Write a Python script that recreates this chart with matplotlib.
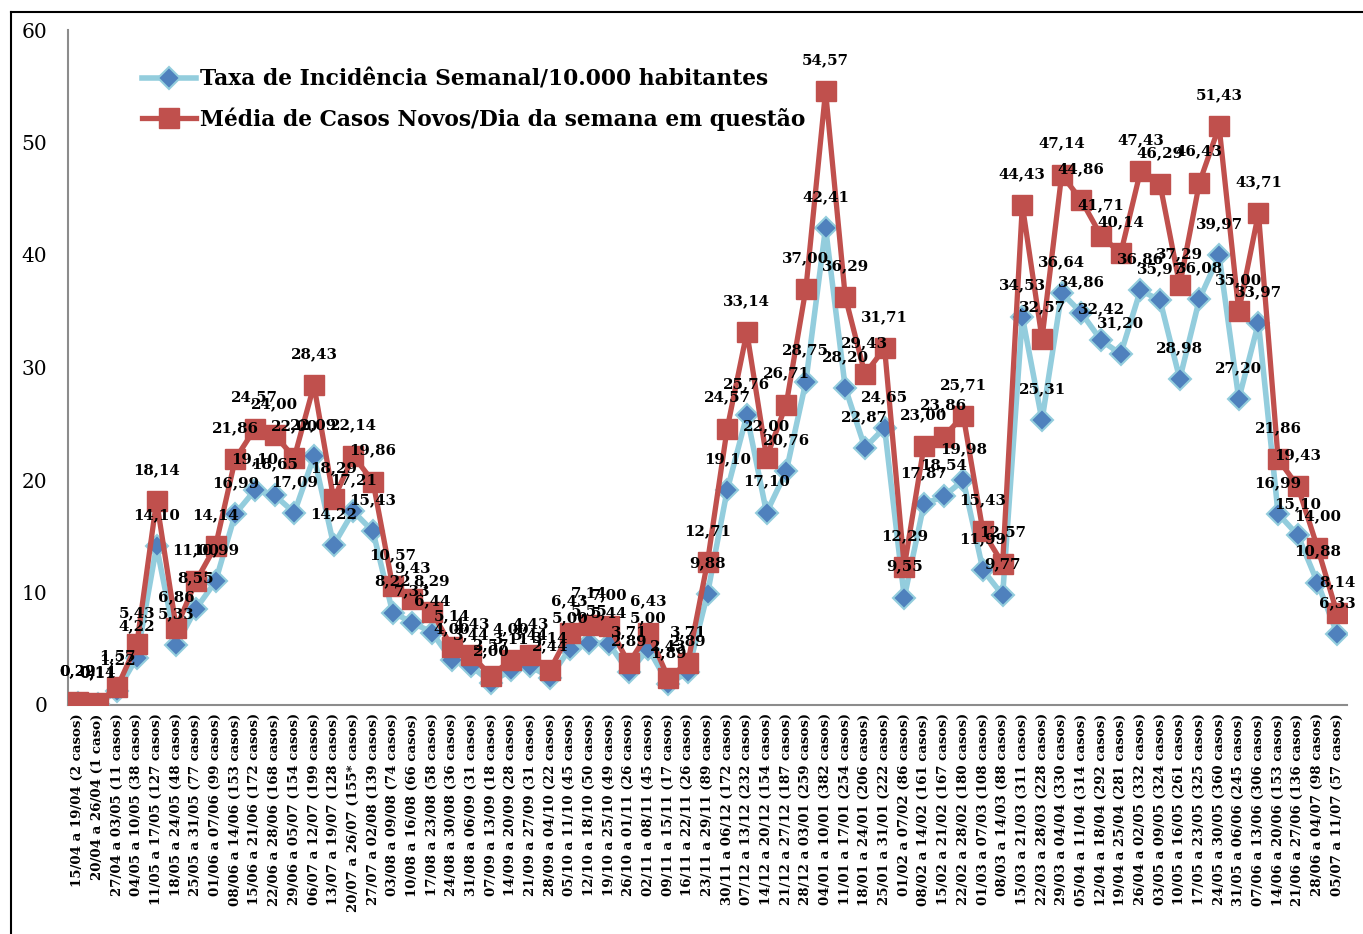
import matplotlib
matplotlib.use("Agg")
import matplotlib.pyplot as plt
from matplotlib.lines import Line2D

categories = [
    "15/04 a 19/04 (2 casos)", "20/04 a 26/04 (1 caso)", "27/04 a 03/05 (11 casos)",
    "04/05 a 10/05 (38 casos)", "11/05 a 17/05 (127 casos)", "18/05 a 24/05 (48 casos)",
    "25/05 a 31/05 (77 casos)", "01/06 a 07/06 (99 casos)", "08/06 a 14/06 (153 casos)",
    "15/06 a 21/06 (172 casos)", "22/06 a 28/06 (168 casos)", "29/06 a 05/07 (154 casos)",
    "06/07 a 12/07 (199 casos)", "13/07 a 19/07 (128 casos)", "20/07 a 26/07 (155* casos)",
    "27/07 a 02/08 (139 casos)", "03/08 a 09/08 (74 casos)", "10/08 a 16/08 (66 casos)",
    "17/08 a 23/08 (58 casos)", "24/08 a 30/08 (36 casos)", "31/08 a 06/09 (31 casos)",
    "07/09 a 13/09 (18 casos)", "14/09 a 20/09 (28 casos)", "21/09 a 27/09 (31 casos)",
    "28/09 a 04/10 (22 casos)", "05/10 a 11/10 (45 casos)", "12/10 a 18/10 (50 casos)",
    "19/10 a 25/10 (49 casos)", "26/10 a 01/11 (26 casos)", "02/11 a 08/11 (45 casos)",
    "09/11 a 15/11 (17 casos)", "16/11 a 22/11 (26 casos)", "23/11 a 29/11 (89 casos)",
    "30/11 a 06/12 (172 casos)", "07/12 a 13/12 (232 casos)", "14/12 a 20/12 (154 casos)",
    "21/12 a 27/12 (187 casos)", "28/12 a 03/01 (259 casos)", "04/01 a 10/01 (382 casos)",
    "11/01 a 17/01 (254 casos)", "18/01 a 24/01 (206 casos)", "25/01 a 31/01 (222 casos)",
    "01/02 a 07/02 (86 casos)", "08/02 a 14/02 (161 casos)", "15/02 a 21/02 (167 casos)",
    "22/02 a 28/02 (180 casos)", "01/03 a 07/03 (108 casos)", "08/03 a 14/03 (88 casos)",
    "15/03 a 21/03 (311 casos)", "22/03 a 28/03 (228 casos)", "29/03 a 04/04 (330 casos)",
    "05/04 a 11/04 (314 casos)", "12/04 a 18/04 (292 casos)", "19/04 a 25/04 (281 casos)",
    "26/04 a 02/05 (332 casos)", "03/05 a 09/05 (324 casos)", "10/05 a 16/05 (261 casos)",
    "17/05 a 23/05 (325 casos)", "24/05 a 30/05 (360 casos)", "31/05 a 06/06 (245 casos)",
    "07/06 a 13/06 (306 casos)", "14/06 a 20/06 (153 casos)", "21/06 a 27/06 (136 casos)",
    "28/06 a 04/07 (98 casos)", "05/07 a 11/07 (57 casos)",
]

taxa_incidencia = [
    0.22, 0.11, 1.22, 4.22, 14.10, 5.33, 8.55, 10.99, 16.99, 19.10, 18.65, 17.09,
    22.09, 14.22, 17.21, 15.43, 8.22, 7.33, 6.44, 4.00, 3.44, 2.00, 3.11, 3.44,
    2.44, 5.00, 5.55, 5.44, 2.89, 5.00, 1.89, 2.89, 9.88, 19.10, 25.76, 17.10,
    20.76, 28.75, 42.41, 28.20, 22.87, 24.65, 9.55, 17.87, 18.54, 19.98, 11.99,
    9.77, 34.53, 25.31, 36.64, 34.86, 32.42, 31.20, 36.86, 35.97, 28.98, 36.08,
    39.97, 27.20, 33.97, 16.99, 15.10, 10.88, 6.33,
]

media_casos = [
    0.29, 0.14, 1.57, 5.43, 18.14, 6.86, 11.00, 14.14, 21.86, 24.57, 24.00, 22.00,
    28.43, 18.29, 22.14, 19.86, 10.57, 9.43, 8.29, 5.14, 4.43, 2.57, 4.00, 4.43,
    3.14, 6.43, 7.14, 7.00, 3.71, 6.43, 2.43, 3.71, 12.71, 24.57, 33.14, 22.00,
    26.71, 37.00, 54.57, 36.29, 29.43, 31.71, 12.29, 23.00, 23.86, 25.71, 15.43,
    12.57, 44.43, 32.57, 47.14, 44.86, 41.71, 40.14, 47.43, 46.29, 37.29, 46.43,
    51.43, 35.00, 43.71, 21.86, 19.43, 14.00, 8.14,
]

y_ticks = [0, 10, 20, 30, 40, 50, 60]

serif = ["DejaVu Serif"]
plt.rcParams["font.family"] = serif

W, H = 1363, 934
fig = plt.figure(figsize=(W / 100, H / 100), dpi=100)
ax = fig.add_axes([68 / W, 1 - 705 / H, (1347 - 68) / W, (705 - 30) / H])

x = list(range(len(categories)))

blue_line = "#93CDDD"
blue_mark = "#4F81BD"
red = "#C0504D"

ax.plot(x, taxa_incidencia, color=blue_line, lw=4.0, marker="D", ms=11,
        mfc=blue_mark, mec=blue_line, mew=1.5, zorder=3,
        label="Taxa de Incidência Semanal/10.000 habitantes")
ax.plot(x, media_casos, color=red, lw=3.8, marker="s", ms=14,
        mfc=red, mec=red, mew=1, zorder=4,
        label="Média de Casos Novos/Dia da semana em questão")

def fmt(v):
    return f"{v:.2f}".replace(".", ",")

for xi, v in zip(x, taxa_incidencia):
    ax.annotate(fmt(v), (xi, v), xytext=(0, 31), textcoords="offset pixels",
                ha="center", va="center", fontsize=10.8, fontweight="bold",
                color="black", zorder=6)
for xi, v in zip(x, media_casos):
    ax.annotate(fmt(v), (xi, v), xytext=(0, 31), textcoords="offset pixels",
                ha="center", va="center", fontsize=10.8, fontweight="bold",
                color="black", zorder=6)

ax.set_xlim(-0.5, len(categories) - 0.5)
ax.set_ylim(0, 60)
ax.set_yticks(y_ticks)
ax.set_yticklabels([str(t) for t in y_ticks], fontsize=14.5)
ax.tick_params(axis="y", length=0, pad=15)
ax.set_xticks(x)
ax.set_xticklabels(categories, rotation=90, fontsize=9.6, fontweight="bold",
                   va="top", ha="center")
ax.tick_params(axis="x", length=0, pad=6)

for s in ["top", "right"]:
    ax.spines[s].set_visible(False)
for s in ["left", "bottom"]:
    ax.spines[s].set_color("#8C8C8C")
    ax.spines[s].set_linewidth(1.5)

leg = ax.legend(loc="upper left", bbox_to_anchor=(131 / W, 1 - 58 / H),
                bbox_transform=fig.transFigure, frameon=False,
                prop={"family": serif, "weight": "bold", "size": 15.7},
                handlelength=2.5, handletextpad=0.15, labelspacing=0.75,
                borderpad=0)

# outer chart border
fig.add_artist(Line2D([11 / W, 11 / W], [0, 1 - 12 / H], color="black", lw=1.5,
                      transform=fig.transFigure))
fig.add_artist(Line2D([11 / W, 1], [1 - 12 / H, 1 - 12 / H], color="black", lw=1.5,
                      transform=fig.transFigure))

fig.savefig("out.png", dpi=100)
